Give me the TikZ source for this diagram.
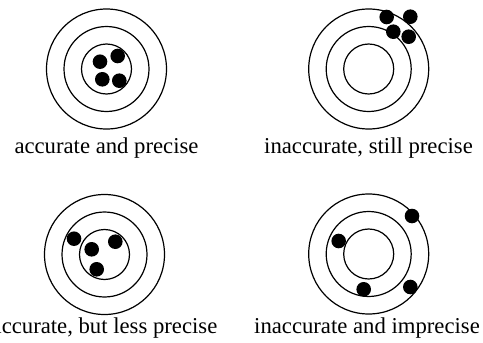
\documentclass[tikz,border=0pt]{standalone}
\usepackage{fontspec}
\setmainfont{Liberation Serif}
\usepackage{tikz}
\usetikzlibrary{positioning}

\begin{document}
\begin{tikzpicture}[x=1pt,y=-1pt,
    ring/.style={line width=1.2pt},
    hit/.style={draw=none,circle,fill=black,minimum size=14.6pt,inner sep=0pt},
    caption/.style={anchor=base,inner sep=0pt,font=\fontsize{22.7}{27}\selectfont}]
    \useasboundingbox (0,0) rectangle (483,343);

    % Target 1
    \coordinate (c1) at (106.5,69);
    \foreach \r in {60,42.5,25} \draw[ring] (c1) circle[radius=\r pt];
    \node[hit] (h11) at (100,61.7) {};
    \node[hit] (h12) at (117.7,56) {};
    \node[hit] (h13) at (102.3,79.3) {};
    \node[hit] (h14) at (119.3,80.7) {};
    \node[caption] (l1) at (106.5,153.3) {accurate and precise};

    % Target 2
    \coordinate (c2) at (368.7,69);
    \foreach \r in {60,42.5,25} \draw[ring] (c2) circle[radius=\r pt];
    \node[hit] (h21) at (386.7,17) {};
    \node[hit] (h22) at (410.3,16.7) {};
    \node[hit] (h23) at (393.3,31.7) {};
    \node[hit] (h24) at (408.7,36.7) {};
    \node[caption] (l2) at (368.5,153.3) {inaccurate, still precise};

    % Target 3
    \coordinate (c3) at (104.5,254.5);
    \foreach \r in {60,42.5,25} \draw[ring] (c3) circle[radius=\r pt];
    \node[hit] (h31) at (74,238.7) {};
    \node[hit] (h32) at (91.7,249.3) {};
    \node[hit] (h33) at (115.3,241.7) {};
    \node[hit] (h34) at (96.7,269.3) {};
    \node[caption] (l3) at (104.5,333.5) {accurate, but less precise};

    % Target 4
    \coordinate (c4) at (368.7,254);
    \foreach \r in {60,42.5,25} \draw[ring] (c4) circle[radius=\r pt];
    \node[hit] (h41) at (412,216) {};
    \node[hit] (h42) at (338.7,241) {};
    \node[hit] (h43) at (363.7,289.3) {};
    \node[hit] (h44) at (410.3,287) {};
    \node[caption] (l4) at (367,333.5) {inaccurate and imprecise};
\end{tikzpicture}
\end{document}
